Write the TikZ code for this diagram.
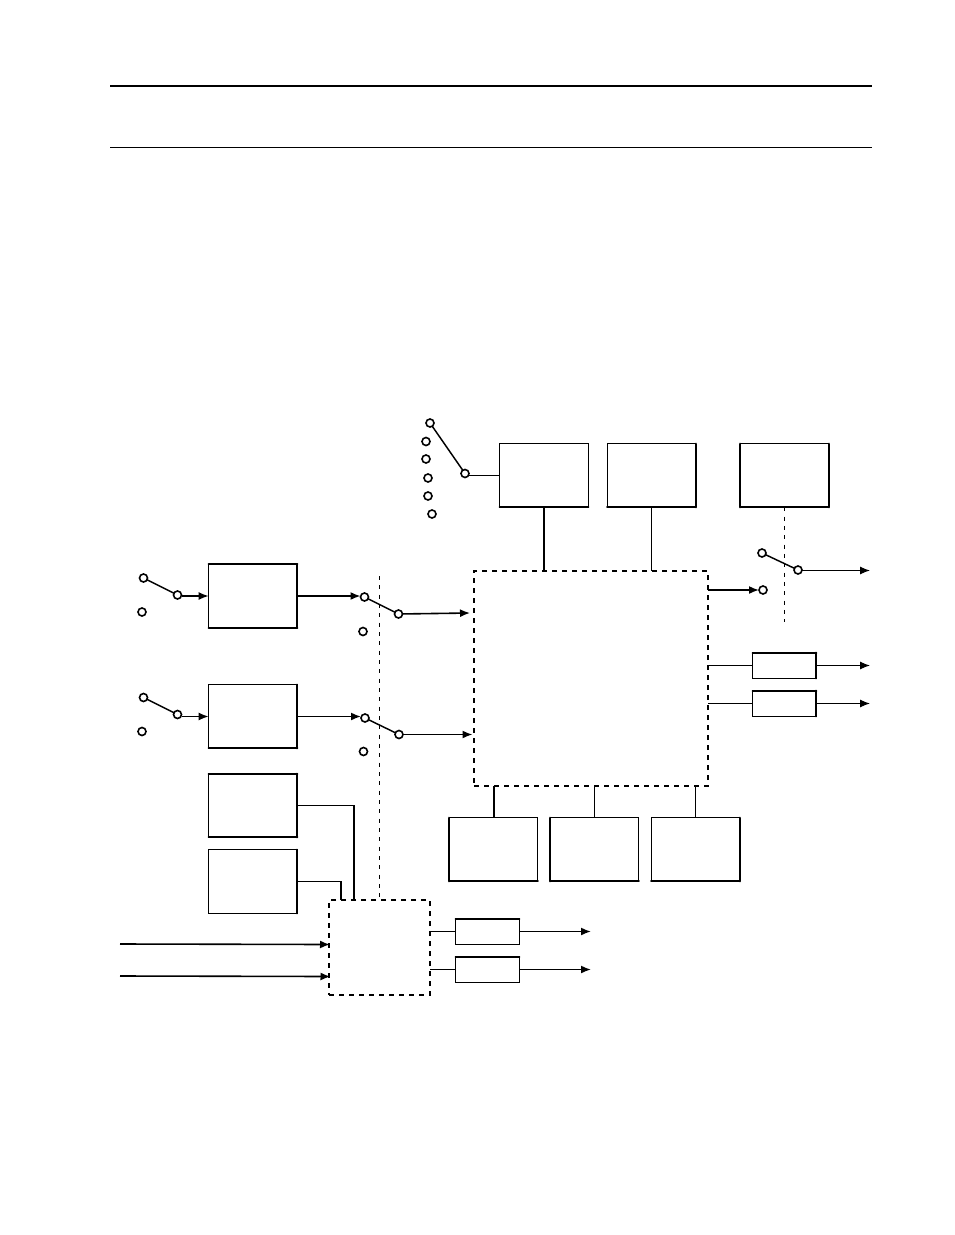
\documentclass[tikz,border=0pt]{standalone}
\usetikzlibrary{arrows.meta}
\begin{document}
\begin{tikzpicture}[x=.75pt, y=-.75pt]

    % style
    \tikzset{
        bigbox/.style={rectangle, draw=black, fill=white, line width=.7pt, outer sep=0pt, inner sep=0pt, minimum width=66.5pt, minimum height=47.5pt},
        smallbox/.style={bigbox, minimum width=47.5pt, minimum height=19pt},
        dashbox/.style={rectangle, draw=black, fill=white, line width=.85pt, outer sep=0pt, inner sep=0pt, dash pattern=on 3.75pt off 3.75pt},
        term/.style={circle, draw=black, fill=white, line width=1.2pt, outer sep=0pt, inner sep=0pt, minimum size=6pt},
        wiper/.style={line width=1.1pt},
        wire/.style={line width=.8pt},
        heavy/.style={line width=1.7pt},
        sig/.style={line width=1.2pt, -{Latex[length=7.5pt, width=6pt]}},
        divider/.style={line width=.7pt, dash pattern=on 3pt off 4pt}
    }

    % page margins
    \useasboundingbox (0,0) rectangle (954,1235);
    \fill [white] (0,0) rectangle (954,1235);

    % header rules
    \coordinate (RuleA) at (110,86);
    \coordinate (RuleB) at (872,86);
    \coordinate (RuleC) at (110,147.5);
    \coordinate (RuleD) at (872,147.5);
    \draw [line width=1.5pt] (RuleA) -- (RuleB);
    \draw [line width=.75pt] (RuleC) -- (RuleD);

    % dividers behind the boxes
    \coordinate (DivATop) at (379.5,576);
    \coordinate (DivBEnd) at (784.5,622);

    % boxes
    \node [bigbox] (top1) at (544,475.5) {};
    \node [bigbox] (top2) at (651.5,475.5) {};
    \node [bigbox] (top3) at (784.5,475.5) {};
    \node [bigbox] (src1) at (253,596) {};
    \node [bigbox] (src2) at (253,716.5) {};
    \node [bigbox] (src3) at (253,805.5) {};
    \node [bigbox] (src4) at (253,881.5) {};
    \node [bigbox] (bot1) at (493.5,849.5) {};
    \node [bigbox] (bot2) at (594.5,849.5) {};
    \node [bigbox] (bot3) at (695.5,849.5) {};
    \node [smallbox] (outA) at (784.5,665.5) {};
    \node [smallbox] (outB) at (784.5,703.5) {};
    \node [smallbox] (outC) at (487.5,931.5) {};
    \node [smallbox] (outD) at (487.5,969.5) {};

    % dashed blocks
    \draw [divider] (DivATop) -- (379.5,900);
    \draw [divider] (top3.south) -- (DivBEnd);
    \node [dashbox, minimum width=175.5pt, minimum height=161.25pt] (core) at (591,678.5) {};
    \node [dashbox, line width=1.1pt, minimum width=75.75pt, minimum height=71.25pt] (ctrl) at (379.5,947.5) {};

    % heavier box edges
    \foreach \n/\c/\d in {top1/south west/south east, top2/south west/south east, top2/north east/south east, top3/south west/south east, top3/north east/south east, top3/north west/south west,
        src1/north west/north east, src1/north east/south east, src1/south west/south east, src2/north east/south east, src2/south west/south east, src3/north west/north east, src3/north east/south east, src3/south west/south east, src4/north east/south east,
        bot1/north west/south west, bot1/south west/south east, bot2/north west/south west, bot2/south west/south east, bot3/south west/south east, bot3/north east/south east,
        outA/north west/north east, outA/north east/south east, outB/north west/north east, outB/north east/south east, outC/north west/north east, outD/north west/north east}
    \draw [heavy, line cap=round] (\n.\c) -- (\n.\d);

    % top left selector
    \foreach \t/\x/\y in {a/430/423, b/426/441.5, c/426/459, d/428/478, e/428/496, f/432/514}
    \node [term] (sel\t) at (\x,\y) {};
    \node [term] (selP) at (465,473.5) {};
    \draw [wiper] (sela) -- (selP);
    \draw [wire] (selP.east |- top1.west) -- (top1.west);

    % input switches
    \node [term] (inA1) at (143.5,578) {};
    \node [term] (inA2) at (142,612) {};
    \node [term] (inAP) at (177.5,595) {};
    \node [term] (inB1) at (143.5,697.5) {};
    \node [term] (inB2) at (142,731.5) {};
    \node [term] (inBP) at (177.5,714.5) {};
    \draw [wiper] (inA1) -- (inAP);
    \draw [wiper] (inB1) -- (inBP);
    \draw [sig] (inAP.east |- src1.west) -- (src1.west);
    \draw [sig] (inBP.east |- src2.west) -- (src2.west);

    % switches between the sources and the core
    \node [term] (midA1) at (364.5,597) {};
    \node [term] (midA2) at (363,631.5) {};
    \node [term] (midAP) at (398.5,614) {};
    \node [term] (midB1) at (365,718) {};
    \node [term] (midB2) at (363.5,751.5) {};
    \node [term] (midBP) at (399,734.5) {};
    \coordinate (CoreInA) at (470,613);
    \coordinate (CoreInB) at (472.5,734.5);
    \draw [wiper] (midA1) -- (midAP);
    \draw [wiper] (midB1) -- (midBP);
    \draw [sig] (src1.east) -- (src1.east -| midA1.west);
    \draw [sig] (src2.east) -- (src2.east -| midB1.west);
    \draw [sig] (midAP) -- (CoreInA);
    \draw [sig] (midBP) -- (CoreInB);

    % top right switch
    \node [term] (outS1) at (762,553) {};
    \node [term] (outS2) at (763,590) {};
    \node [term] (outSP) at (798,570) {};
    \coordinate (OutSEnd) at (870,570.5);
    \draw [wiper] (outS1) -- (outSP);
    \draw [sig, line width=.8pt] (outSP.east |- OutSEnd) -- (OutSEnd);
    \draw [sig] (core.east |- outS2) -- (outS2);

    % links into the core
    \draw [line width=1.8pt] (top1.south) -- (core.north -| top1.south);
    \draw [wire] (top2.south) -- (core.north -| top2.south);
    \draw [line width=1.5pt] (bot1.north) -- (core.south -| bot1.north);
    \draw [wire] (bot2.north) -- (core.south -| bot2.north);
    \draw [line width=1.2pt] (bot3.north) -- (core.south -| bot3.north);

    % core outputs
    \coordinate (OutAEnd) at (870,665.5);
    \coordinate (OutBEnd) at (870,703.5);
    \draw [wire] (core.east |- outA.west) -- (outA.west);
    \draw [wire] (core.east |- outB.west) -- (outB.west);
    \draw [sig, line width=.8pt] (outA.east) -- (OutAEnd);
    \draw [sig, line width=.8pt] (outB.east) -- (OutBEnd);

    % lower block
    \coordinate (CtrlTopA) at (354,900);
    \coordinate (CtrlTopB) at (341,900);
    \draw [line width=1.1pt] (src3.east) -| (CtrlTopA);
    \draw [line width=1pt] (src4.east) -| (CtrlTopB);
    \coordinate (FeedA) at (120,944);
    \coordinate (FeedB) at (120,976);
    \coordinate (CtrlInA) at (330,944.5);
    \coordinate (CtrlInB) at (330.5,976.5);
    \draw [sig] (FeedA) -- (CtrlInA);
    \draw [sig] (FeedB) -- (CtrlInB);
    \coordinate (OutCEnd) at (591,931.5);
    \coordinate (OutDEnd) at (591,969.5);
    \draw [line width=1.1pt] (ctrl.east |- outC.west) -- (outC.west);
    \draw [line width=1.1pt] (ctrl.east |- outD.west) -- (outD.west);
    \draw [sig] (outC.east) -- (OutCEnd);
    \draw [sig] (outD.east) -- (OutDEnd);

\end{tikzpicture}
\end{document}
